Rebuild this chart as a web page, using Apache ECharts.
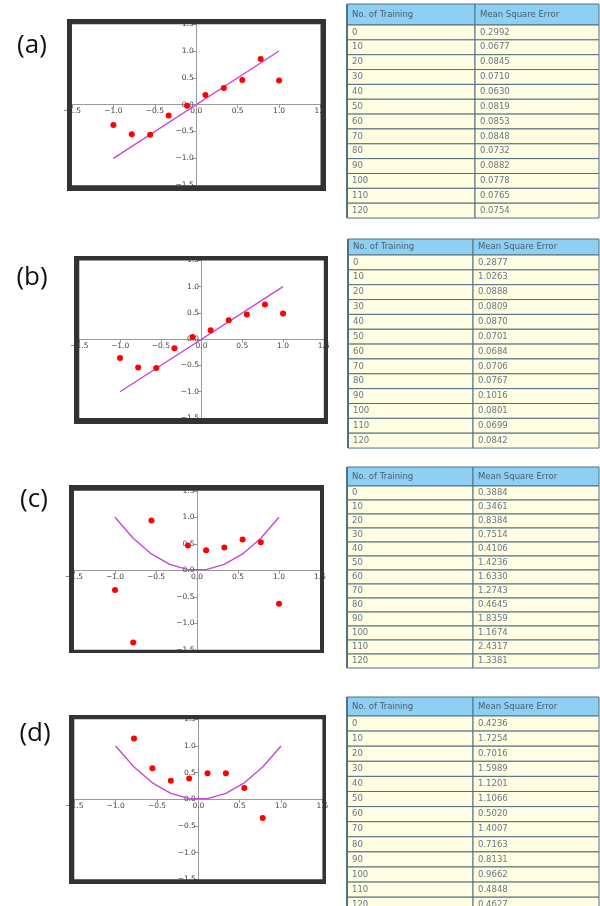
<!DOCTYPE html>
<html>
<head>
<meta charset="utf-8">
<script src="https://cdn.jsdelivr.net/npm/echarts@6/dist/echarts.min.js"></script>
<style>
html,body{margin:0;padding:0;background:#fff;}
#chart{width:600px;height:906px;}
</style>
</head>
<body>
<div id="chart"></div>
<script>
// ---------- data ----------
const panelLabels = ['(a)', '(b)', '(c)', '(d)'];
const sampleX = [-1.0, -0.778, -0.556, -0.333, -0.111, 0.111, 0.333, 0.556, 0.778, 1.0];

const pointsA = [-0.38, -0.55, -0.56, -0.20, -0.02, 0.18, 0.31, 0.46, 0.85, 0.45];
const pointsB = [-0.36, -0.54, -0.55, -0.17, 0.04, 0.17, 0.36, 0.47, 0.66, 0.49];
const pointsC = [-0.37, -1.36, 0.94, null, 0.47, 0.38, 0.43, 0.58, 0.53, -0.63];
const pointsD = [null, 1.14, 0.58, 0.35, 0.39, 0.49, 0.49, 0.21, -0.35, null];

const lineLinearX = [-1.0, 1.0];
const lineLinearY = [-1.0, 1.0];
const curveY = [1.0, 0.605, 0.309, 0.111, 0.012, 0.012, 0.111, 0.309, 0.605, 1.0];

const tableHeader = ['No. of Training', 'Mean Square Error'];
const trainingCounts = ['0', '10', '20', '30', '40', '50', '60', '70', '80', '90', '100', '110', '120'];
const mseA = ['0.2992', '0.0677', '0.0845', '0.0710', '0.0630', '0.0819', '0.0853', '0.0848', '0.0732', '0.0882', '0.0778', '0.0765', '0.0754'];
const mseB = ['0.2877', '1.0263', '0.0888', '0.0809', '0.0870', '0.0701', '0.0684', '0.0706', '0.0767', '0.1016', '0.0801', '0.0699', '0.0842'];
const mseC = ['0.3884', '0.3461', '0.8384', '0.7514', '0.4106', '1.4236', '1.6330', '1.2743', '0.4645', '1.8359', '1.1674', '2.4317', '1.3381'];
const mseD = ['0.4236', '1.7254', '0.7016', '1.5989', '1.1201', '1.1066', '0.5020', '1.4007', '0.7163', '0.8131', '0.9662', '0.4848', '0.4627'];

// ---------- layout (styles / positions) ----------
const panels = [
  {grid: {x: 72, y: 24.2, w: 248.5, h: 161}, frame: {x: 67, y: 19, w: 259, h: 172}, label: {x: 32, y: 46},
   pts: pointsA, lineX: lineLinearX, lineY: lineLinearY, mse: mseA,
   table: {x: 347, y: 4, split: 475, headH: 21, rowH: 14.85}},
  {grid: {x: 79.3, y: 260.4, w: 244.5, h: 157.6}, frame: {x: 74, y: 256, w: 254, h: 168}, label: {x: 32, y: 278},
   pts: pointsB, lineX: lineLinearX, lineY: lineLinearY, mse: mseB,
   table: {x: 348, y: 239, split: 473, headH: 16, rowH: 14.85}},
  {grid: {x: 74, y: 490.8, w: 246, h: 159}, frame: {x: 69, y: 485, w: 255, h: 168}, label: {x: 34, y: 500},
   pts: pointsC, lineX: sampleX, lineY: curveY, mse: mseC,
   table: {x: 347, y: 467, split: 473, headH: 19, rowH: 14.0}},
  {grid: {x: 74.3, y: 719.3, w: 248.1, h: 160}, frame: {x: 69, y: 715, w: 257, h: 169}, label: {x: 35, y: 734},
   pts: pointsD, lineX: sampleX, lineY: curveY, mse: mseD,
   table: {x: 347, y: 697, split: 473, headH: 19, rowH: 15.1}}
];

const fmt = v => {
  const s = Math.abs(v).toFixed(1);
  return v < 0 ? '\u2212' + s : s;
};

const grids = [], xAxes = [], yAxes = [], series = [], graphics = [];
const axisCommon = () => ({
  type: 'value', min: -1.5, max: 1.5, interval: 0.5,
  axisLine: {onZero: false, lineStyle: {color: '#9a9a9a', width: 1}},
  axisTick: {show: true, length: 3.5, lineStyle: {color: '#9a9a9a'}},
  axisLabel: {fontSize: 7.5, color: '#444', fontFamily: 'DejaVu Sans', margin: 2.5, formatter: fmt, showMinLabel: true, showMaxLabel: true},
  splitLine: {show: false}
});

panels.forEach((p, i) => {
  grids.push({left: p.grid.x, top: p.grid.y, width: p.grid.w, height: p.grid.h,
    show: true, backgroundColor: '#fff', borderWidth: 0});
  xAxes.push(Object.assign(axisCommon(), {gridIndex: i, position: 'bottom', offset: -p.grid.h / 2}));
  yAxes.push(Object.assign(axisCommon(), {gridIndex: i, position: 'left', offset: -p.grid.w / 2}));
  series.push({
    type: 'line', xAxisIndex: i, yAxisIndex: i,
    data: p.lineX.map((x, k) => [x, p.lineY[k]]),
    showSymbol: false, symbol: 'none', silent: true,
    lineStyle: {color: '#c946d8', width: 1.4}, z: 3
  });
  series.push({
    type: 'scatter', xAxisIndex: i, yAxisIndex: i,
    data: sampleX.map((x, k) => [x, p.pts[k]]).filter(d => d[1] !== null),
    symbolSize: 6, itemStyle: {color: '#ff0000', opacity: 1}, z: 4
  });
  // thick frame around the plot
  const f = p.frame, g = p.grid;
  const fc = '#333';
  graphics.push(
    {type: 'rect', shape: {x: f.x, y: f.y, width: f.w, height: g.y - f.y}, style: {fill: fc}, z: 100},
    {type: 'rect', shape: {x: f.x, y: g.y + g.h, width: f.w, height: f.y + f.h - g.y - g.h}, style: {fill: fc}, z: 100},
    {type: 'rect', shape: {x: f.x, y: f.y, width: g.x - f.x, height: f.h}, style: {fill: fc}, z: 100},
    {type: 'rect', shape: {x: g.x + g.w, y: f.y, width: f.x + f.w - g.x - g.w, height: f.h}, style: {fill: fc}, z: 100}
  );
  // panel label
  graphics.push({type: 'text', x: p.label.x, y: p.label.y, z: 100,
    style: {text: panelLabels[i], fontSize: 26, fontFamily: 'Open Sans', fill: '#111', align: 'center', verticalAlign: 'middle'}});
  // table
  const t = p.table, right = 599;
  const cellText = (txt, x, y, h, color) => ({type: 'text', x: x + 5, y: y + h * 0.5, z: 102,
    style: {text: txt, fontSize: 8.5, fontFamily: 'DejaVu Sans', fill: color, align: 'left', verticalAlign: 'middle'}});
  const border = '#52707f';
  graphics.push({type: 'rect', shape: {x: t.x, y: t.y, width: t.split - t.x, height: t.headH},
    style: {fill: '#8ecff4', stroke: border, lineWidth: 1}, z: 101});
  graphics.push({type: 'rect', shape: {x: t.split, y: t.y, width: right - t.split, height: t.headH},
    style: {fill: '#8ecff4', stroke: border, lineWidth: 1}, z: 101});
  graphics.push(cellText(tableHeader[0], t.x, t.y, t.headH, '#4a5d6c'));
  graphics.push(cellText(tableHeader[1], t.split, t.y, t.headH, '#4a5d6c'));
  trainingCounts.forEach((n, r) => {
    const y = t.y + t.headH + r * t.rowH;
    graphics.push({type: 'rect', shape: {x: t.x, y: y, width: t.split - t.x, height: t.rowH},
      style: {fill: '#fffde2', stroke: border, lineWidth: 1}, z: 101});
    graphics.push({type: 'rect', shape: {x: t.split, y: y, width: right - t.split, height: t.rowH},
      style: {fill: '#fffde2', stroke: border, lineWidth: 1}, z: 101});
    graphics.push(cellText(n, t.x, y, t.rowH, '#66788a'));
    graphics.push(cellText(p.mse[r], t.split, y, t.rowH, '#66788a'));
  });
  const tableH = t.headH + trainingCounts.length * t.rowH;
  graphics.push({type: 'rect', shape: {x: t.x - 1, y: t.y, width: 2, height: tableH}, style: {fill: border}, z: 103});
});

const chart = echarts.init(document.getElementById('chart'), null, {renderer: 'canvas'});
chart.setOption({
  animation: false,
  backgroundColor: '#fff',
  grid: grids,
  xAxis: xAxes,
  yAxis: yAxes,
  series: series,
  graphic: graphics
});
</script>
</body>
</html>
